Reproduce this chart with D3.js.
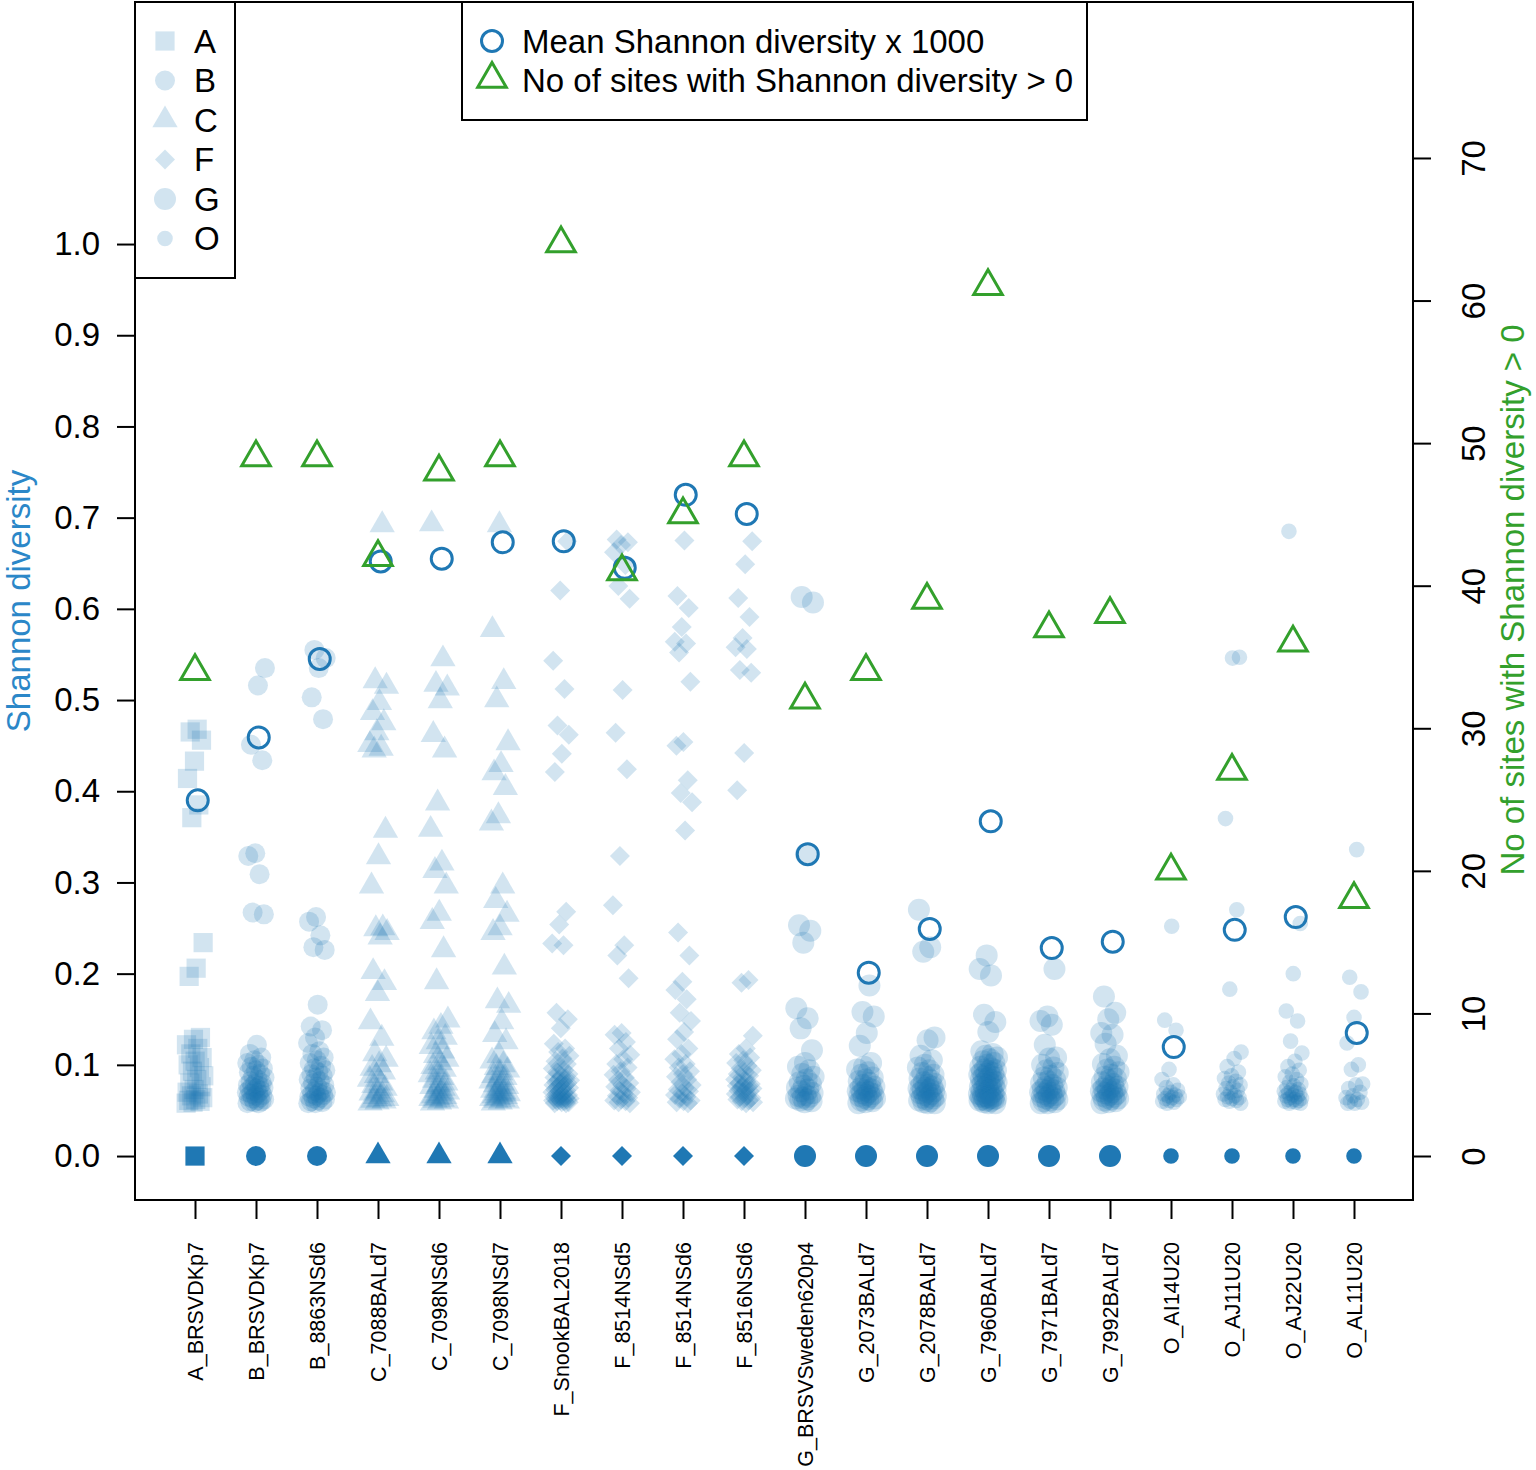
<!DOCTYPE html>
<html><head><meta charset="utf-8">
<script src="https://cdn.jsdelivr.net/npm/d3@7"></script>
<style>body{margin:0;background:#fff} svg text{font-family:"Liberation Sans",Arial,Helvetica,sans-serif}</style>
</head><body><svg id="c" width="1536" height="1470"></svg>
<script>
// ---------- DATA ----------
const categories = ["A_BRSVDKp7","B_BRSVDKp7","B_8863NSd6","C_7088BALd7","C_7098NSd6","C_7098NSd7",
  "F_SnookBAL2018","F_8514NSd5","F_8514NSd6","F_8516NSd6","G_BRSVSweden620p4","G_2073BALd7",
  "G_2078BALd7","G_7960BALd7","G_7971BALd7","G_7992BALd7","O_AI14U20","O_AJ11U20","O_AJ22U20","O_AL11U20"];
const groupLetters = ["A","B","C","F","G","O"];
const meanShannonX1000 = [0.390,0.459,0.545,0.652,0.655,0.673,0.674,0.645,0.725,0.704,0.331,0.201,0.249,0.367,0.228,0.235,0.1195,0.248,0.262,0.135];
const sitesPositive = [34,49,49,42,48,49,64,41,45,49,32,34,39,61,37,38,20,27,36,18];
const leftTicks = [0,0.1,0.2,0.3,0.4,0.5,0.6,0.7,0.8,0.9,1.0];
const rightTicks = [0,10,20,30,40,50,60,70];

const div_A_BRSVDKp7 = [0.468,0.465,0.456,0.433,0.414,0.385,0.371,0.234,0.206,0.197,0.130,0.128,0.122,0.118,0.112,0.108,0.104,0.100,0.097,0.093,0.088,0.084,0.080,0.076,0.073,0.070,0.068,0.066,0.064,0.062,0.061,0.060,0.059,0.058];
const div_B_BRSVDKp7 = [0.535,0.516,0.451,0.434,0.332,0.329,0.309,0.267,0.265,0.122,0.112,0.108,0.105,0.102,0.100,0.098,0.096,0.094,0.092,0.090,0.088,0.086,0.084,0.082,0.080,0.079,0.078,0.077,0.076,0.075,0.074,0.073,0.072,0.071,0.070,0.069,0.068,0.067,0.066,0.065,0.064,0.063,0.062,0.061,0.060,0.060,0.059,0.058,0.058];
const div_B_8863NSd6 = [0.555,0.546,0.535,0.503,0.479,0.262,0.257,0.242,0.229,0.226,0.166,0.142,0.138,0.130,0.124,0.115,0.112,0.108,0.105,0.102,0.099,0.096,0.094,0.092,0.090,0.088,0.086,0.084,0.082,0.080,0.078,0.076,0.074,0.072,0.071,0.070,0.069,0.068,0.067,0.066,0.065,0.064,0.063,0.062,0.061,0.060,0.059,0.058,0.058];
const div_C_7088BALd7 = [0.692,0.521,0.515,0.497,0.486,0.475,0.464,0.451,0.447,0.445,0.357,0.328,0.296,0.250,0.249,0.245,0.240,0.202,0.190,0.178,0.147,0.129,0.112,0.106,0.100,0.096,0.092,0.088,0.084,0.080,0.077,0.074,0.071,0.069,0.067,0.065,0.063,0.062,0.061,0.060,0.059,0.058];
const div_C_7098NSd6 = [0.693,0.545,0.517,0.513,0.499,0.462,0.445,0.387,0.358,0.321,0.313,0.296,0.266,0.257,0.226,0.191,0.149,0.142,0.136,0.130,0.125,0.120,0.115,0.110,0.106,0.102,0.098,0.095,0.092,0.089,0.086,0.083,0.080,0.078,0.076,0.074,0.072,0.070,0.068,0.066,0.065,0.064,0.063,0.062,0.061,0.060,0.059,0.058];
const div_C_7098NSd7 = [0.692,0.577,0.520,0.500,0.453,0.429,0.420,0.404,0.373,0.365,0.296,0.280,0.265,0.250,0.245,0.207,0.170,0.165,0.147,0.133,0.125,0.110,0.104,0.100,0.097,0.094,0.091,0.088,0.086,0.084,0.082,0.080,0.078,0.076,0.074,0.072,0.070,0.069,0.068,0.067,0.066,0.065,0.064,0.063,0.062,0.061,0.060,0.059,0.058];
const div_F_SnookBAL2018 = [0.674,0.620,0.543,0.512,0.472,0.462,0.441,0.421,0.268,0.254,0.233,0.231,0.157,0.150,0.140,0.123,0.118,0.114,0.110,0.107,0.104,0.101,0.098,0.096,0.094,0.092,0.090,0.088,0.086,0.085,0.084,0.083,0.082,0.081,0.080,0.079,0.078,0.077,0.076,0.075,0.074,0.073,0.072,0.071,0.070,0.069,0.068,0.067,0.066,0.065,0.064,0.064,0.063,0.063,0.062,0.062,0.061,0.061,0.060,0.060,0.059,0.059,0.058,0.058];
const div_F_8514NSd5 = [0.676,0.673,0.670,0.662,0.648,0.625,0.611,0.511,0.464,0.424,0.329,0.275,0.231,0.220,0.195,0.135,0.133,0.125,0.118,0.111,0.106,0.101,0.097,0.093,0.089,0.086,0.083,0.080,0.078,0.076,0.074,0.072,0.070,0.068,0.066,0.064,0.062,0.061,0.060,0.059,0.058];
const div_F_8514NSd6 = [0.675,0.614,0.601,0.580,0.564,0.562,0.552,0.520,0.454,0.450,0.412,0.398,0.388,0.357,0.245,0.220,0.191,0.182,0.172,0.157,0.148,0.136,0.128,0.118,0.112,0.106,0.101,0.097,0.093,0.090,0.087,0.084,0.081,0.078,0.075,0.073,0.071,0.069,0.067,0.065,0.063,0.061,0.060,0.059,0.058];
const div_F_8516NSd6 = [0.674,0.649,0.612,0.591,0.568,0.558,0.556,0.533,0.530,0.442,0.401,0.193,0.190,0.132,0.118,0.112,0.108,0.105,0.102,0.099,0.096,0.094,0.092,0.090,0.088,0.086,0.084,0.082,0.080,0.079,0.078,0.077,0.076,0.075,0.074,0.073,0.072,0.071,0.070,0.068,0.066,0.065,0.064,0.063,0.062,0.061,0.060,0.059,0.058];
const div_G_BRSVSweden620p4 = [0.613,0.607,0.331,0.253,0.247,0.234,0.162,0.151,0.140,0.116,0.102,0.098,0.094,0.090,0.087,0.084,0.081,0.079,0.077,0.075,0.073,0.071,0.069,0.067,0.066,0.065,0.064,0.063,0.062,0.061,0.060,0.059];
const div_G_2073BALd7 = [0.187,0.158,0.153,0.135,0.121,0.102,0.098,0.095,0.092,0.089,0.086,0.084,0.082,0.080,0.078,0.076,0.075,0.074,0.073,0.072,0.071,0.070,0.069,0.068,0.067,0.066,0.065,0.064,0.063,0.062,0.061,0.060,0.059,0.058];
const div_G_2078BALd7 = [0.270,0.229,0.224,0.130,0.127,0.110,0.105,0.100,0.097,0.094,0.091,0.089,0.087,0.085,0.083,0.081,0.079,0.078,0.077,0.076,0.075,0.074,0.073,0.072,0.071,0.070,0.069,0.068,0.067,0.066,0.065,0.064,0.063,0.062,0.061,0.060,0.059,0.058,0.058];
const div_G_7960BALd7 = [0.220,0.205,0.198,0.155,0.147,0.136,0.115,0.112,0.110,0.108,0.106,0.104,0.102,0.100,0.098,0.096,0.095,0.094,0.093,0.092,0.091,0.090,0.089,0.088,0.087,0.086,0.085,0.084,0.083,0.082,0.081,0.080,0.079,0.078,0.077,0.076,0.075,0.074,0.073,0.072,0.071,0.070,0.069,0.068,0.067,0.066,0.066,0.065,0.065,0.064,0.064,0.063,0.063,0.062,0.062,0.061,0.061,0.060,0.059,0.058,0.058];
const div_G_7971BALd7 = [0.205,0.153,0.148,0.144,0.122,0.108,0.107,0.100,0.097,0.094,0.091,0.088,0.086,0.084,0.082,0.080,0.078,0.076,0.075,0.074,0.073,0.072,0.071,0.070,0.069,0.068,0.067,0.066,0.065,0.064,0.063,0.062,0.061,0.060,0.059,0.058,0.058];
const div_G_7992BALd7 = [0.175,0.157,0.150,0.135,0.133,0.123,0.110,0.106,0.101,0.098,0.095,0.092,0.089,0.087,0.085,0.083,0.081,0.079,0.077,0.076,0.075,0.074,0.073,0.072,0.071,0.070,0.069,0.068,0.067,0.066,0.065,0.064,0.063,0.062,0.061,0.060,0.059,0.058];
const div_O_AI14U20 = [0.252,0.149,0.138,0.095,0.084,0.078,0.075,0.072,0.070,0.068,0.067,0.066,0.065,0.064,0.063,0.062,0.061,0.060,0.059,0.058];
const div_O_AJ11U20 = [0.547,0.546,0.370,0.270,0.183,0.114,0.107,0.098,0.092,0.088,0.085,0.082,0.080,0.078,0.076,0.074,0.072,0.070,0.068,0.066,0.065,0.064,0.063,0.062,0.061,0.060,0.058];
const div_O_AJ22U20 = [0.685,0.255,0.200,0.159,0.148,0.126,0.113,0.104,0.098,0.094,0.090,0.087,0.084,0.081,0.079,0.077,0.075,0.073,0.072,0.071,0.070,0.069,0.068,0.067,0.066,0.065,0.064,0.063,0.062,0.062,0.061,0.060,0.060,0.059,0.058,0.058];
const div_O_AL11U20 = [0.336,0.196,0.180,0.152,0.124,0.100,0.095,0.079,0.078,0.074,0.070,0.066,0.064,0.062,0.060,0.059,0.058,0.058];

const diversityBySample = [div_A_BRSVDKp7,div_B_BRSVDKp7,div_B_8863NSd6,div_C_7088BALd7,div_C_7098NSd6,div_C_7098NSd7,
  div_F_SnookBAL2018,div_F_8514NSd5,div_F_8514NSd6,div_F_8516NSd6,div_G_BRSVSweden620p4,div_G_2073BALd7,
  div_G_2078BALd7,div_G_7960BALd7,div_G_7971BALd7,div_G_7992BALd7,div_O_AI14U20,div_O_AJ11U20,div_O_AJ22U20,div_O_AL11U20];

// ---------- STYLE ----------
const BLUE = "#1F78B4", GREEN = "#33A02C", ALPHA = 0.2;
const FONT = 33;
const shapeOf = {A:"square",B:"circleB",C:"triangle",F:"diamond",G:"circleG",O:"circleO"};

function shapePath(kind){
  switch(kind){
    case "square": { const h=9.6; return `M${-h},${-h}H${h}V${h}H${-h}Z`; }
    case "diamond": { const h=10; return `M0,${-h}L${h},0L0,${h}L${-h},0Z`; }
    case "triangle": { const r=14.6, w=r*Math.sqrt(3)/2; return `M0,${-r}L${w},${r/2}L${-w},${r/2}Z`; }
    default: { const r = kind==="circleB"?10: kind==="circleG"?11:7.8;
      return `M${r},0A${r},${r} 0 1,1 ${-r},0A${r},${r} 0 1,1 ${r},0Z`; }
  }
}

const svg = d3.select("#c");
const x = d3.scaleLinear().domain([0,21]).range([134,1415]);
const yL = d3.scaleLinear().domain([-0.0482,1.2654]).range([1200,2]);
const yR = d3.scaleLinear().domain([-3.086,80.94]).range([1200,2]);

// points
const pts = [];
diversityBySample.forEach((arr,ci)=>{
  const g = categories[ci][0];
  arr.forEach((v,j)=>{
    const jit = (((j+1)*0.6180339887 + ci*0.37) % 1 - 0.5) * 2 * 0.15;
    pts.push({ci, g, v, jit});
  });
});
const plot = svg.append("g");
plot.selectAll("path.pt").data(pts).enter().append("path")
  .attr("class","pt")
  .attr("d", d=>shapePath(shapeOf[d.g]))
  .attr("transform", d=>`translate(${x(d.ci+1+d.jit)},${yL(d.v)})`)
  .attr("fill", BLUE).attr("fill-opacity", ALPHA);

// zero-diversity sites (solid)
plot.selectAll("path.zero").data(categories).enter().append("path")
  .attr("class","zero")
  .attr("d", d=>shapePath(shapeOf[d[0]]))
  .attr("transform", (d,i)=>`translate(${x(i+1)},${yL(0)})`)
  .attr("fill", BLUE);

// means (drawn with a slight rightward offset, as in the original)
plot.selectAll("circle.mean").data(meanShannonX1000).enter().append("circle")
  .attr("cx",(d,i)=>x(i+1.045)).attr("cy",d=>yL(d)).attr("r",10.5)
  .attr("fill","none").attr("stroke",BLUE).attr("stroke-width",3);

// counts
const triOpen = (r)=>{const w=r*Math.sqrt(3)/2; return `M0,${-r}L${w},${r/2}L${-w},${r/2}Z`;};
plot.selectAll("path.cnt").data(sitesPositive).enter().append("path")
  .attr("d", triOpen(16.5))
  .attr("transform",(d,i)=>`translate(${x(i+1)},${yR(d)})`)
  .attr("fill","none").attr("stroke",GREEN).attr("stroke-width",3).attr("stroke-linejoin","miter");

// box
svg.append("rect").attr("x",135).attr("y",2).attr("width",1278).attr("height",1198)
  .attr("fill","none").attr("stroke","#000").attr("stroke-width",2);

// left axis
const axL = svg.append("g").attr("transform","translate(135,0)")
  .call(d3.axisLeft(yL).tickValues(leftTicks).tickFormat(d3.format(".1f")).tickSize(18).tickPadding(17));
axL.select(".domain").remove();
axL.selectAll("line").attr("stroke-width",2);
axL.selectAll("text").attr("font-size",FONT).attr("fill","#000").attr("font-family",null);

// right axis
const axR = svg.append("g").attr("transform","translate(1413,0)")
  .call(d3.axisRight(yR).tickValues(rightTicks).tickSize(18));
axR.select(".domain").remove();
axR.selectAll("line").attr("stroke-width",2);
axR.selectAll("text").attr("font-size",FONT).attr("fill","#000").attr("font-family",null)
  .attr("transform","rotate(-90)").attr("x",0).attr("y",72).attr("dy",0).attr("text-anchor","middle");

// bottom axis
const axB = svg.append("g").attr("transform","translate(0,1200)")
  .call(d3.axisBottom(x).tickValues(d3.range(1,21)).tickFormat(i=>categories[i-1]).tickSize(19));
axB.select(".domain").remove();
axB.selectAll("line").attr("stroke-width",2);
axB.selectAll("text").attr("font-size",21.5).attr("fill","#000").attr("font-family",null)
  .attr("transform","rotate(-90)").attr("x",-42).attr("y",0).attr("dy","0.36em").attr("text-anchor","end");

// axis titles
svg.append("text").attr("transform","translate(30,601) rotate(-90)").attr("text-anchor","middle")
  .attr("font-size",FONT).attr("fill","#2b87c8").text("Shannon diversity");
svg.append("text").attr("transform","translate(1524,600) rotate(-90)").attr("text-anchor","middle")
  .attr("font-size",FONT).attr("fill",GREEN).text("No of sites with Shannon diversity > 0");

// legend 1 (groups)
const lg1 = svg.append("g");
lg1.append("rect").attr("x",135).attr("y",2).attr("width",100).attr("height",276)
  .attr("fill","#fff").attr("stroke","#000").attr("stroke-width",2);
groupLetters.forEach((g,i)=>{
  const cy = 41 + i*39.5;
  lg1.append("path").attr("d",shapePath(shapeOf[g])).attr("transform",`translate(165,${cy})`)
    .attr("fill",BLUE).attr("fill-opacity",ALPHA);
  lg1.append("text").attr("x",194).attr("y",cy).attr("dy","0.36em").attr("font-size",FONT).text(g);
});

// legend 2
const lg2 = svg.append("g");
lg2.append("rect").attr("x",462).attr("y",2).attr("width",625).attr("height",118)
  .attr("fill","#fff").attr("stroke","#000").attr("stroke-width",2);
lg2.append("circle").attr("cx",492).attr("cy",41).attr("r",10.5).attr("fill","none").attr("stroke",BLUE).attr("stroke-width",3);
lg2.append("path").attr("d",triOpen(16.5)).attr("transform","translate(492,79)").attr("fill","none").attr("stroke",GREEN).attr("stroke-width",3);
lg2.append("text").attr("x",522).attr("y",41).attr("dy","0.36em").attr("font-size",FONT).text("Mean Shannon diversity x 1000");
lg2.append("text").attr("x",522).attr("y",80).attr("dy","0.36em").attr("font-size",FONT).text("No of sites with Shannon diversity > 0");
</script></body></html>
